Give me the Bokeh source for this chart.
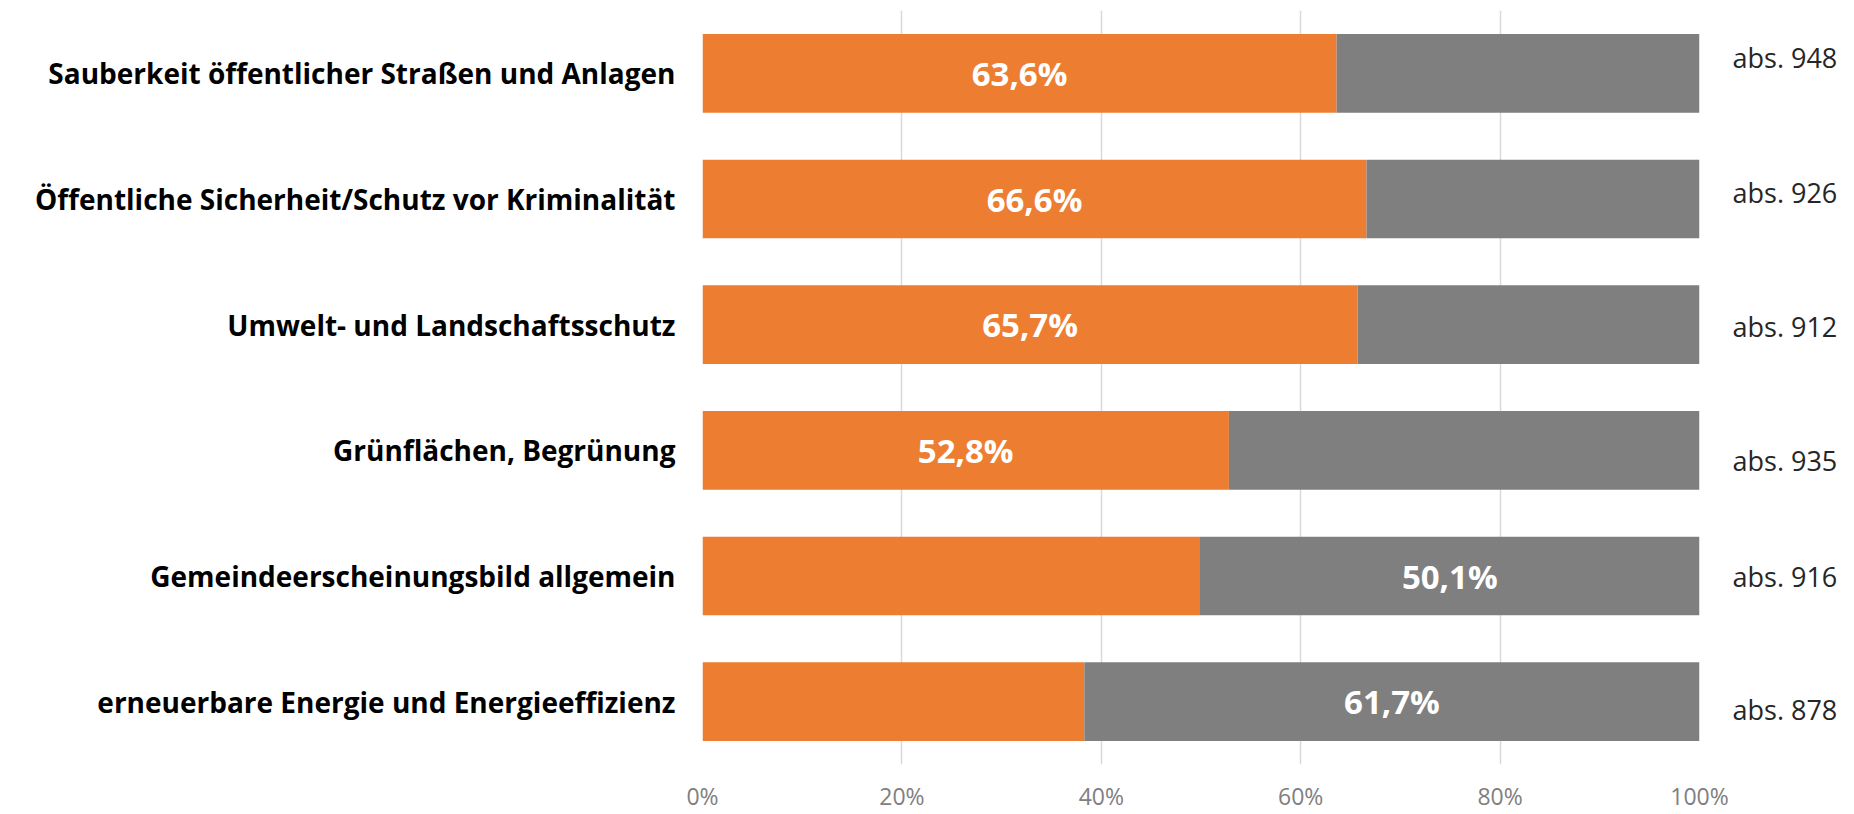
from bokeh.plotting import figure
from bokeh.models import FactorRange, Range1d, FixedTicker, ColumnDataSource
from bokeh.core.properties import value
from bokeh.embed import file_html
from bokeh.resources import INLINE

categories = [
    "Sauberkeit öffentlicher Straßen und Anlagen",
    "Öffentliche Sicherheit/Schutz vor Kriminalität",
    "Umwelt- und Landschaftsschutz",
    "Grünflächen, Begrünung",
    "Gemeindeerscheinungsbild allgemein",
    "erneuerbare Energie und Energieeffizienz",
]
share_orange = [63.6, 66.6, 65.7, 52.8, 49.9, 38.3]
share_gray = [36.4, 33.4, 34.3, 47.2, 50.1, 61.7]
abs_n = [948, 926, 912, 935, 916, 878]
x_ticks = [0, 20, 40, 60, 80, 100]
x_tick_labels = ["0%", "20%", "40%", "60%", "80%", "100%"]

ORANGE = "#ED7D31"
GRAY = "#7F7F7F"
FONT = "Open Sans"

p = figure(
    width=1854, height=814,
    y_range=FactorRange(factors=list(reversed(categories))),
    x_range=Range1d(0, 100),
    output_backend="svg", toolbar_location=None,
    min_border_left=702, min_border_right=155,
    min_border_top=10, min_border_bottom=47,
)
p.outline_line_color = None
p.background_fill_color = "white"
p.border_fill_color = "white"

src = ColumnDataSource(dict(cat=categories, orange=share_orange, gray=share_gray))
p.hbar_stack(["orange", "gray"], y="cat", height=0.626, color=[ORANGE, GRAY],
             line_color=None, source=src)

# value labels on the larger segment of each bar
lab_x, lab_t = [], []
for o, g in zip(share_orange, share_gray):
    if o >= g:
        lab_x.append(o / 2)
        lab_t.append(f"{o:.1f}%".replace(".", ","))
    else:
        lab_x.append(o + g / 2)
        lab_t.append(f"{g:.1f}%".replace(".", ","))
p.text(x=lab_x, y=categories, text=lab_t, text_font=value(FONT),
       text_font_style="bold", text_font_size="33px", text_color="white",
       text_align="center", text_baseline="middle")

# "abs." labels to the right of the plot
abs_offsets = [-15.5, -7, 1.5, 10, 0.5, 8]
p.text(x=[100] * len(categories), y=categories, text=[f"abs. {n}" for n in abs_n],
       x_offset=33, y_offset=abs_offsets, text_font=value(FONT),
       text_font_size="27px", text_color="#262626",
       text_align="left", text_baseline="middle", level="overlay")

p.xaxis.ticker = FixedTicker(ticks=x_ticks)
p.xaxis.major_label_overrides = {t: l for t, l in zip(x_ticks, x_tick_labels)}
p.xaxis.axis_line_color = None
p.xaxis.major_tick_line_color = None
p.xaxis.minor_tick_line_color = None
p.xaxis.major_label_text_font = FONT
p.xaxis.major_label_text_font_size = "23px"
p.xaxis.major_label_text_color = "#808080"
p.xaxis.major_label_standoff = 9

p.yaxis.axis_line_color = None
p.yaxis.major_tick_line_color = None
p.yaxis.major_label_text_font = FONT
p.yaxis.major_label_text_font_style = "bold"
p.yaxis.major_label_text_font_size = "28px"
p.yaxis.major_label_text_color = "black"
p.yaxis.major_label_standoff = 21

p.xgrid.ticker = FixedTicker(ticks=x_ticks)
p.xgrid.grid_line_color = "#D9D9D9"
p.xgrid.grid_line_width = 1.5
p.ygrid.grid_line_color = None

open("out.html", "w").write(file_html(p, INLINE))
